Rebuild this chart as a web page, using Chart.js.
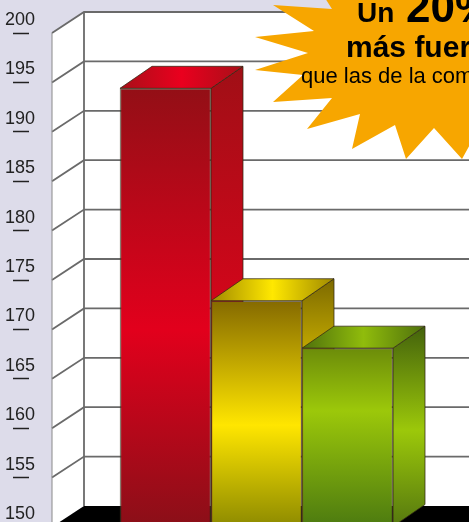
<!DOCTYPE html>
<html>
<head>
<meta charset="utf-8">
<title>Chart</title>
<script src="https://cdn.jsdelivr.net/npm/chart.js@4"></script>
<style>
html,body{margin:0;padding:0;width:469px;height:522px;overflow:hidden;background:#dddcea;}
canvas{display:block;}
</style>
</head>
<body>
<canvas id="chart" width="490" height="540" style="width:490px;height:540px"></canvas>
<script>
const categories=["","Rojo","Amarillo","Verde",""];
const values=[null,194.4,172.9,168.1,null];
const axisMin=150;
const axisMax=200;
const axisStep=5;

const frontStops=[
null,
["#930f16","#e2001c","#8a0f18"],
["#856a00","#ffe600","#8d8a00"],
["#6c8c0a","#9cc80a","#4c7a10"],
null
];
const sideStops=[
null,
["#a00f16","#d0061a","#8a0f18"],
["#7d6a00","#ffe000","#7d7a00"],
["#43620c","#9cc80a","#55780f"],
null
];
const topStops=[
null,
["#a80f18","#ea001e","#a80f18"],
["#a08a00","#ffe800","#a08a00"],
["#4e700c","#90bc0c","#4e700c"],
null
];
const frontMid=[0,0.55,0.55,0.35,0];
const sideMid=[0,0.5,0.55,0.52,0];

const wallX=52;
const wallDx=32;
const wallDy=21;
const barDx=32;
const barDy=22;
const starPoints=[
[325,-2],[332,9],[273,5],[314,31],[255,37],[308,53],[255,70],[303,75],[273,102],[332,98],
[307,129],[360,114],[352,149],[395,125],[406,159],[434,128],[462,159],[478,130],[520,100],[520,-5]
];

function threeStops(grad,stops,mid){
grad.addColorStop(0,stops[0]);
grad.addColorStop(mid,stops[1]);
grad.addColorStop(1,stops[2]);
return grad;
}

const scene={
id:"scene",
beforeDatasetsDraw(chart){
const {ctx,scales}=chart;
const y=scales.y;
const right=chart.width;
const backX=wallX+wallDx;
const topY=y.getPixelForValue(axisMax);
const baseY=y.getPixelForValue(axisMin);

ctx.save();
ctx.fillStyle="#ffffff";
ctx.beginPath();
ctx.moveTo(wallX,topY);
ctx.lineTo(backX,topY-wallDy);
ctx.lineTo(right,topY-wallDy);
ctx.lineTo(right,baseY-wallDy);
ctx.lineTo(backX,baseY-wallDy);
ctx.lineTo(wallX,baseY);
ctx.closePath();
ctx.fill();

ctx.fillStyle="#000000";
ctx.beginPath();
ctx.moveTo(wallX,baseY);
ctx.lineTo(backX,baseY-wallDy);
ctx.lineTo(right,baseY-wallDy);
ctx.lineTo(right,baseY);
ctx.closePath();
ctx.fill();

ctx.strokeStyle="#6a6a6a";
ctx.lineWidth=1.8;
y.ticks.forEach(t=>{
if(t.value===axisMin) return;
const py=y.getPixelForValue(t.value);
ctx.beginPath();
ctx.moveTo(wallX,py);
ctx.lineTo(backX,py-wallDy);
ctx.lineTo(right,py-wallDy);
ctx.stroke();
});
ctx.beginPath();
ctx.moveTo(backX,topY-wallDy);
ctx.lineTo(backX,baseY-wallDy);
ctx.stroke();
ctx.lineWidth=1;
ctx.strokeStyle="#8a8a8a";
ctx.beginPath();
ctx.moveTo(wallX,topY);
ctx.lineTo(wallX,baseY);
ctx.stroke();

const bars=chart.getDatasetMeta(0).data;
bars.forEach((bar,i)=>{
if(values[i]===null) return;
const p=bar.getProps(["x","y","base","width"],true);
const l=p.x-p.width/2;
const r=p.x+p.width/2;

ctx.fillStyle=threeStops(ctx.createLinearGradient(0,p.y-barDy,0,p.base),sideStops[i],sideMid[i]);
ctx.strokeStyle="rgba(50,40,20,0.75)";
ctx.lineWidth=1;
ctx.beginPath();
ctx.moveTo(r,p.y);
ctx.lineTo(r+barDx,p.y-barDy);
ctx.lineTo(r+barDx,p.base-barDy);
ctx.lineTo(r,p.base);
ctx.closePath();
ctx.fill();
ctx.stroke();

ctx.fillStyle=threeStops(ctx.createLinearGradient(l,0,r+barDx,0),topStops[i],0.5);
ctx.beginPath();
ctx.moveTo(l,p.y);
ctx.lineTo(l+barDx,p.y-barDy);
ctx.lineTo(r+barDx,p.y-barDy);
ctx.lineTo(r,p.y);
ctx.closePath();
ctx.fill();
ctx.stroke();
});
ctx.restore();
},
afterDraw(chart){
const ctx=chart.ctx;
ctx.save();
ctx.fillStyle="#f7a600";
ctx.beginPath();
starPoints.forEach((pt,i)=>{
if(i===0) ctx.moveTo(pt[0],pt[1]);
else ctx.lineTo(pt[0],pt[1]);
});
ctx.closePath();
ctx.fill();

ctx.fillStyle="#000000";
ctx.textBaseline="alphabetic";
ctx.textAlign="left";
ctx.font="bold 28px 'Liberation Sans'";
ctx.fillText("Un",357,22);
ctx.font="bold 44px 'Liberation Sans'";
ctx.fillText("20%",406,22);
ctx.font="bold 30px 'Liberation Sans'";
ctx.fillText("más fuertes",346,57);
ctx.font="22px 'Liberation Sans'";
ctx.fillText("que las de la competencia",301,83);
ctx.restore();
}
};

new Chart(document.getElementById("chart"),{
type:"bar",
data:{
labels:categories,
datasets:[{
data:values,
base:axisMin,
barPercentage:1,
categoryPercentage:1,
borderWidth:1.5,
borderColor:"rgba(70,55,35,0.65)",
backgroundColor:(context)=>{
const i=context.dataIndex;
if(!frontStops[i]||!context.chart.chartArea) return "transparent";
const y=context.chart.scales.y;
return threeStops(
context.chart.ctx.createLinearGradient(0,y.getPixelForValue(values[i]),0,y.getPixelForValue(axisMin)),
frontStops[i],
frontMid[i]
);
}
}]
},
options:{
responsive:false,
animation:false,
layout:{padding:{left:5,right:6,top:33,bottom:13}},
plugins:{
legend:{display:false},
tooltip:{enabled:false}
},
scales:{
x:{
display:false
},
y:{
min:axisMin,
max:axisMax,
afterFit(scale){scale.width=24;},
border:{display:false},
grid:{
drawOnChartArea:false,
drawTicks:true,
tickLength:16,
tickColor:"#222222",
tickWidth:1.5
},
ticks:{
stepSize:axisStep,
mirror:true,
padding:-24,
labelOffset:-13,
color:"#222222",
font:{family:"Liberation Sans",size:18}
}
}
}
},
plugins:[scene]
});
</script>
</body>
</html>
